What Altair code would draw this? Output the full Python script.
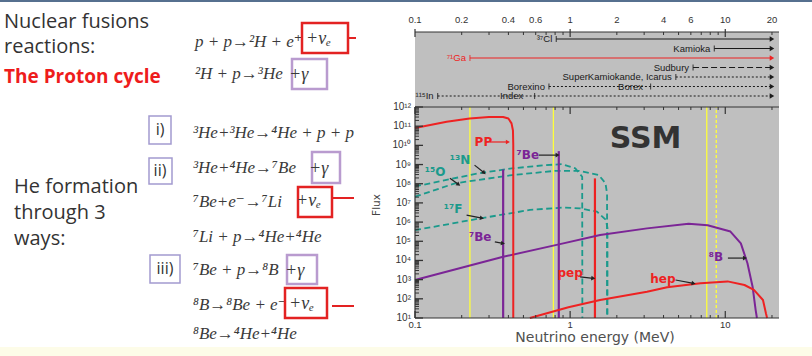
import altair as alt
import pandas as pd

# ---------------- spectra (E in MeV, flux) ----------------
pp_E = [0.1, 0.16, 0.225, 0.30, 0.37, 0.40, 0.419, 0.428, 0.43, 0.43]
pp_F = [8.0e10, 1.7e11, 2.5e11, 3.0e11, 3.0e11, 2.5e11, 1.4e11, 6.0e10, 1.0e10, 10]
n13_E = [0.1, 0.256, 0.421, 0.692, 0.887, 1.08, 1.196, 1.199]
n13_F = [7.2e7, 3.5e8, 6.3e8, 9.3e8, 1.05e9, 6.3e8, 2.3e8, 10]
o15_E = [0.1, 0.181, 0.421, 0.80, 1.14, 1.53, 1.69, 1.73, 1.73]
o15_F = [2.1e7, 1.05e8, 2.8e8, 4.7e8, 4.7e8, 2.8e8, 1.05e8, 3.0e7, 10]
f17_E = [0.1, 0.262, 0.551, 0.905, 1.16, 1.49, 1.70, 1.74, 1.74]
f17_F = [3.8e5, 1.55e6, 4.3e6, 5.8e6, 5.2e6, 3.5e6, 1.3e6, 5.0e5, 10]
b8_E = [0.1, 0.37, 0.86, 1.56, 3.13, 5.8, 7.7, 10.8, 12.6, 13.9, 15.0, 15.7, 16.0]
b8_F = [9.5e2, 1.55e4, 7.1e4, 2.1e5, 4.7e5, 8.3e5, 6.9e5, 3.2e5, 7.8e4, 7.1e3, 4.3e2, 26, 10]
hep_E = [0.55, 0.975, 1.56, 3.13, 4.22, 6.93, 10.35, 13.3, 15.3, 17.5, 18.3, 18.6]
hep_F = [10, 36, 87, 234, 400, 650, 810, 525, 290, 87, 17, 10]

# line sources
line_E = [0.37, 0.845, 1.445]
line_top = [5.5e8, 5.0e9, 1.9e8]
line_color = ["#7b2596", "#7b2596", "#ee2222"]

# yellow threshold lines
yellow_E = [0.226, 0.78, 7.6]
yellow_dot_E = [8.75]

# labels of the sources
lab_text = ["PP", "⁷Be", "¹³N", "¹⁵O", "¹⁷F", "⁷Be", "pep", "hep", "⁸B"]
lab_E = [0.276, 0.534, 0.195, 0.135, 0.176, 0.263, 1.0, 3.96, 8.7]
lab_F = [1.5e10, 3.2e9, 1.7e9, 4.3e8, 4.8e6, 1.66e5, 2.2e3, 1.07e3, 1.5e4]
lab_color = ["#ee2222", "#7b2596", "#1b9a8c", "#1b9a8c", "#1b9a8c", "#7b2596",
             "#ee2222", "#ee2222", "#7b2596"]

# small pointer arrows
arr_E1 = [0.303, 0.63, 0.242, 0.168, 0.215, 0.327, 1.16, 4.78, 10.4]
arr_F1 = [1.5e10, 3.1e9, 9.3e8, 1.95e8, 2.3e6, 9.3e4, 1.4e3, 955, 1.33e4]
arr_E2 = [0.397, 0.83, 0.279, 0.191, 0.27, 0.369, 1.41, 6.25, 13.4]
arr_F2 = [1.5e10, 3.1e9, 3.7e8, 9.1e7, 1.6e6, 7.8e4, 1.17e3, 645, 1.33e4]
arr_angle = [0, 0, 40, 35, 11, 11, 7, 10, 0]
arr_color = ["#ee2222", "#222222", "#222222", "#222222", "#222222", "#222222",
             "#222222", "#222222", "#222222"]

# experiments (top panel)
exp_names = ["37Cl", "Kamioka", "71Ga", "Sudbury", "SuperKamiokande, Icarus", "Borexino", "115In"]
exp_labels = ["³⁷Cl", "Kamioka", "⁷¹Ga", "Sudbury", "SuperKamiokande, Icarus", "Borexino", "¹¹⁵In"]
exp_start = [0.814, 8.5, 0.226, 6.2, 4.8, 0.73, 0.14]
exp_end = [20, 20, 20, 20, 20, 20, 20]
exp_style = ["solid", "solid", "solid", "dashed", "dotted", "dotted", "dotted"]
exp_color = ["#1a1a1a", "#1a1a1a", "#ee2222", "#1a1a1a", "#1a1a1a", "#1a1a1a", "#1a1a1a"]
mid_names = ["Borexino", "115In"]
mid_labels = ["Borex", "Index"]
mid_tick_E = [3.3, 0.59]
mid_label_E = [2.45, 0.42]

# axes
top_tick_labels = ["0.1", "0.2", "0.4", "0.6", "1", "2", "4", "6", "10", "20"]
top_tick_vals = [0.1, 0.2, 0.4, 0.6, 1, 2, 4, 6, 10, 20]
bottom_tick_labels = ["0.1", "1", "10"]
bottom_tick_vals = [0.1, 1, 10]
x_major = [0.1, 1, 10]
x_minor = [0.2, 0.3, 0.4, 0.5, 0.6, 0.7, 0.8, 0.9, 2, 3, 4, 5, 6, 7, 8, 9, 20]
y_labels = ["10¹", "10²", "10³", "10⁴", "10⁵", "10⁶", "10⁷", "10⁸", "10⁹", "10¹⁰", "10¹¹", "10¹²"]
y_major = [1e1, 1e2, 1e3, 1e4, 1e5, 1e6, 1e7, 1e8, 1e9, 1e10, 1e11, 1e12]
y_minor = [m * 10.0 ** n for n in range(1, 12) for m in range(2, 10)]

# ---------------- scales ----------------
XS = alt.Scale(type="log", domain=[0.1, 22.2], range=[415, 779])
YS = alt.Scale(type="log", domain=[10, 1e12], range=[318, 107])
YE = alt.Scale(type="point", domain=exp_names, range=[39, 96], padding=0)

X = lambda f: alt.X(f, type="quantitative", scale=XS, axis=None)
X2 = lambda f: alt.X2(f)
Y = lambda f: alt.Y(f, type="quantitative", scale=YS, axis=None)
YX = lambda f: alt.Y(f, type="nominal", scale=YE, axis=None)

one = pd.DataFrame({"a": [0]})
layers = []

SANS = "'Open Sans', 'Noto Sans', sans-serif"
SERIF = "'Liberation Serif', 'DejaVu Serif', serif"
NARROW = "'Liberation Sans Narrow', 'Liberation Sans', sans-serif"
GOTH = "'DejaVu Sans', sans-serif"


def box(x1, x2, y1, y2, color, w=2.0):
    return alt.Chart(one).mark_rect(fillOpacity=0, stroke=color, strokeWidth=w).encode(
        x=alt.value(x1), x2=alt.value(x2), y=alt.value(y1), y2=alt.value(y2))


def txt(s, x, y, size, color="#333333", font=SANS, align="left", weight="normal",
        style="normal", angle=None):
    kw = dict(text=s, align=align, baseline="middle", fontSize=size, font=font,
              fontWeight=weight, fontStyle=style, color=color)
    if angle is not None:
        kw["angle"] = angle
    return alt.Chart(one).mark_text(**kw).encode(x=alt.value(x), y=alt.value(y))


def seg(x1, x2, y1, y2, color, w=2.0):
    return alt.Chart(one).mark_rule(color=color, strokeWidth=w).encode(
        x=alt.value(x1), x2=alt.value(x2), y=alt.value(y1), y2=alt.value(y2))


# slide decorations
layers.append(alt.Chart(one).mark_rect(color="#56708f").encode(
    x=alt.value(0), x2=alt.value(812), y=alt.value(0), y2=alt.value(2)))
layers.append(alt.Chart(one).mark_rect(color="#fdfce8").encode(
    x=alt.value(0), x2=alt.value(812), y=alt.value(347), y2=alt.value(356)))

# ---------------- left text ----------------
layers += [
    txt("Nuclear fusions", 4, 22, 20),
    txt("reactions:", 4, 47, 20),
    txt("The Proton cycle", 4, 77, 19, color="#ee1c1c", weight="bold"),
    txt("He formation", 14, 187, 20),
    txt("through 3", 14, 213, 20),
    txt("ways:", 14, 239, 20),
]
EQ = 17
EQC = "#3a3a3a"
eqs = [
    ("p + p→²H + e⁺", 195, 42), ("²H + p→³He", 195, 74),
    ("³He+³He→⁴He + p + p", 193, 133), ("³He+⁴He→⁷Be", 193, 168),
    ("⁷Be+e⁻→⁷Li", 193, 202), ("⁷Li + p→⁴He+⁴He", 193, 237),
    ("⁷Be + p→⁸B", 193, 270), ("⁸B→⁸Be + e⁻", 193, 305), ("⁸Be→⁴He+⁴He", 193, 334),
]
for s, x, y in eqs:
    layers.append(txt(s, x, y, EQ, font=SERIF, style="italic", color=EQC))

RED = "#e32222"
PUR = "#b99bcf"
ROM = "#a39bd0"
# boxed neutrinos / gammas
layers += [
    box(302, 348, 23, 53, RED, 2.5), txt("+νₑ", 306, 39, EQ + 1, font=SERIF, style="italic", color=EQC),
    seg(349, 356, 38, 38, RED, 2),
    box(292, 327, 59, 89, PUR, 2.5), txt("+γ", 289, 75, EQ + 1, font=SERIF, style="italic", color=EQC),
    box(312, 340, 152, 183, PUR, 2.5), txt("+γ", 309, 169, EQ + 1, font=SERIF, style="italic", color=EQC),
    box(298, 332, 187, 217, RED, 2.5), txt("+νₑ", 296, 201, EQ + 1, font=SERIF, style="italic", color=EQC),
    seg(333, 354, 198, 198, RED, 2),
    box(287, 317, 255, 284, PUR, 2.5), txt("+γ", 285, 271, EQ + 1, font=SERIF, style="italic", color=EQC),
    box(285, 327, 288, 318, RED, 2.5), txt("+νₑ", 289, 304, EQ + 1, font=SERIF, style="italic", color=EQC),
    seg(332, 354, 306, 306, RED, 2),
]
# roman numerals
layers += [
    box(149, 171, 116, 144, ROM, 1.5), txt("i)", 160, 130, 16, align="center"),
    box(149, 172, 158, 184, ROM, 1.5), txt("ii)", 160, 171, 16, align="center"),
    box(150, 180, 255, 283, ROM, 1.5), txt("iii)", 165, 269, 16, align="center"),
]

# ---------------- chart panel ----------------
panel = pd.DataFrame({"e1": [0.1], "e2": [22.2]})
layers.append(alt.Chart(panel).mark_rect(color="#bfbfbf").encode(
    x=X("e1"), x2=X2("e2"), y=alt.value(32), y2=alt.value(318)))

# yellow threshold lines
ydf = pd.DataFrame({"E": yellow_E, "lo": 10, "hi": 1e12})
layers.append(alt.Chart(ydf).mark_rule(color="#ffff3a", strokeWidth=1.3).encode(
    x=X("E"), y=Y("lo"), y2=alt.Y2("hi")))
ydf2 = pd.DataFrame({"E": yellow_dot_E, "lo": 10, "hi": 1e12})
layers.append(alt.Chart(ydf2).mark_rule(color="#ffff3a", strokeWidth=1.3, strokeDash=[3, 2]).encode(
    x=X("E"), y=Y("lo"), y2=alt.Y2("hi")))


def series(name, E, F):
    return pd.DataFrame({"src": name, "E": E, "F": F, "i": range(len(E))})


def curve_layer(df, color, dash=None, w=2.0):
    kw = dict(color=color, strokeWidth=w, strokeJoin="round")
    if dash:
        kw["strokeDash"] = dash
    return alt.Chart(df).mark_line(**kw).encode(
        x=X("E"), y=Y("F"), detail="src:N", order="i:Q")


cno = pd.concat([series("13N", n13_E, n13_F), series("15O", o15_E, o15_F),
                 series("17F", f17_E, f17_F)])
layers.append(curve_layer(cno, "#1b9a8c", dash=[6, 3.5], w=1.8))

# line sources
ldf = pd.DataFrame({"E": line_E, "top": line_top, "lo": 10, "c": line_color})
layers.append(alt.Chart(ldf).mark_rule(strokeWidth=2.2).encode(
    x=X("E"), y=Y("top"), y2=alt.Y2("lo"), color=alt.Color("c:N", scale=None)))

layers.append(curve_layer(series("8B", b8_E, b8_F), "#7b2596", w=2.0))
layers.append(curve_layer(pd.concat([series("pp", pp_E, pp_F), series("hep", hep_E, hep_F)]),
                          "#ee2222", w=2.0))

# ---------------- axes drawn on the panel ----------------
axis_col = "#333333"
layers.append(alt.Chart(panel).mark_rule(color=axis_col, strokeWidth=1).encode(
    x=X("e1"), x2=X2("e2"), y=alt.value(32)))
layers.append(alt.Chart(panel).mark_rule(color=axis_col, strokeWidth=1).encode(
    x=X("e1"), x2=X2("e2"), y=alt.value(107)))
layers.append(alt.Chart(panel).mark_rule(color=axis_col, strokeWidth=1.2).encode(
    x=X("e1"), x2=X2("e2"), y=alt.value(318)))
layers.append(alt.Chart(one).mark_rule(color=axis_col, strokeWidth=1.2).encode(
    x=alt.value(415), y=alt.value(107), y2=alt.value(318)))

xmin = pd.DataFrame({"E": x_minor})
xmaj = pd.DataFrame({"E": x_major})
for y1, y2a, y2b in [(32, 35, 37), (107, 110, 114), (318, 315, 311)]:
    layers.append(alt.Chart(xmin).mark_rule(color=axis_col, strokeWidth=1).encode(
        x=X("E"), y=alt.value(y1), y2=alt.value(y2a)))
    layers.append(alt.Chart(xmaj).mark_rule(color=axis_col, strokeWidth=1.2).encode(
        x=X("E"), y=alt.value(y1 - 3 if y1 == 32 else y1), y2=alt.value(y2b)))

ymin = pd.DataFrame({"F": y_minor})
ymaj = pd.DataFrame({"F": y_major})
layers.append(alt.Chart(ymin).mark_rule(color=axis_col, strokeWidth=1).encode(
    y=Y("F"), x=alt.value(415), x2=alt.value(419)))
layers.append(alt.Chart(ymaj).mark_rule(color=axis_col, strokeWidth=1.3).encode(
    y=Y("F"), x=alt.value(415), x2=alt.value(423)))

ylab = pd.DataFrame({"F": y_major, "t": y_labels})
layers.append(alt.Chart(ylab).mark_text(align="right", baseline="middle", fontSize=10,
                                        font=NARROW, color="#333333").encode(
    y=Y("F"), x=alt.value(411), text="t:N"))

tlab = pd.DataFrame({"E": top_tick_vals, "t": top_tick_labels})
layers.append(alt.Chart(tlab).mark_text(align="center", baseline="middle", fontSize=9.5,
                                        font=NARROW, color="#333333").encode(
    x=X("E"), y=alt.value(20), text="t:N"))
blab = pd.DataFrame({"E": bottom_tick_vals, "t": bottom_tick_labels})
layers.append(alt.Chart(blab).mark_text(align="center", baseline="middle", fontSize=9.5,
                                        font=NARROW, color="#333333").encode(
    x=X("E"), y=alt.value(325), text="t:N"))

layers.append(txt("Neutrino energy (MeV)", 595, 338, 14, color="#505050", font=GOTH, align="center"))
layers.append(txt("Flux", 377, 205, 10.5, color="#444444", font=GOTH, align="center", angle=270))

# ---------------- experiments panel ----------------
edf = pd.DataFrame({"exp": exp_names, "lab": exp_labels, "s": exp_start, "e": exp_end,
                    "st": exp_style, "c": exp_color})
dash_map = {"solid": None, "dashed": [6, 3], "dotted": [2, 2]}
for st, d in dash_map.items():
    kw = dict(strokeWidth=1.2)
    if d:
        kw["strokeDash"] = d
    layers.append(alt.Chart(edf[edf.st == st]).mark_rule(**kw).encode(
        x=X("s"), x2=X2("e"), y=YX("exp"), color=alt.Color("c:N", scale=None)))
layers.append(alt.Chart(edf).mark_tick(size=6, thickness=1.2).encode(
    x=X("s"), y=YX("exp"), color=alt.Color("c:N", scale=None)))
layers.append(alt.Chart(edf).mark_point(shape="triangle-right", filled=True, size=28, opacity=1).encode(
    x=X("e"), y=YX("exp"), color=alt.Color("c:N", scale=None)))
layers.append(alt.Chart(edf).mark_text(align="right", baseline="middle", fontSize=9.5, dx=-4,
                                       font=NARROW).encode(
    x=X("s"), y=YX("exp"), text="lab:N", color=alt.Color("c:N", scale=None)))
mdf = pd.DataFrame({"exp": mid_names, "lab": mid_labels, "tE": mid_tick_E, "lE": mid_label_E})
layers.append(alt.Chart(mdf).mark_tick(size=6, thickness=1.2, color="#1a1a1a").encode(
    x=X("tE"), y=YX("exp")))
layers.append(alt.Chart(mdf).mark_text(align="center", baseline="middle", fontSize=9.5,
                                       font=NARROW, color="#1a1a1a").encode(
    x=X("lE"), y=YX("exp"), text="lab:N"))

# ---------------- source labels and arrows ----------------
labdf = pd.DataFrame({"t": lab_text, "E": lab_E, "F": lab_F, "c": lab_color})
layers.append(alt.Chart(labdf).mark_text(align="center", baseline="middle", fontSize=12,
                                         font=GOTH, fontWeight="bold").encode(
    x=X("E"), y=Y("F"), text="t:N", color=alt.Color("c:N", scale=None)))
adf = pd.DataFrame({"E1": arr_E1, "F1": arr_F1, "E2": arr_E2, "F2": arr_F2,
                    "ang": arr_angle, "c": arr_color})
layers.append(alt.Chart(adf).mark_rule(strokeWidth=1.2).encode(
    x=X("E1"), x2=X2("E2"), y=Y("F1"), y2=alt.Y2("F2"), color=alt.Color("c:N", scale=None)))
layers.append(alt.Chart(adf).mark_point(shape="triangle-right", filled=True, size=22, opacity=1).encode(
    x=X("E2"), y=Y("F2"), angle=alt.Angle("ang:Q", scale=None), color=alt.Color("c:N", scale=None)))

ssm = pd.DataFrame({"E": [3.06], "F": [2.1e10], "t": ["SSM"]})
layers.append(alt.Chart(ssm).mark_text(align="center", baseline="middle", fontSize=30,
                                       font=GOTH, fontWeight="bold", color="#333333").encode(
    x=X("E"), y=Y("F"), text="t:N"))

chart = alt.layer(*layers).resolve_scale(y="independent").properties(
    width=812, height=356, autosize=alt.AutoSizeParams(type="none"), padding=0,
    background="white",
).configure_view(strokeWidth=0)

chart.save("out.html", embed_options={"renderer": "svg", "actions": False})
